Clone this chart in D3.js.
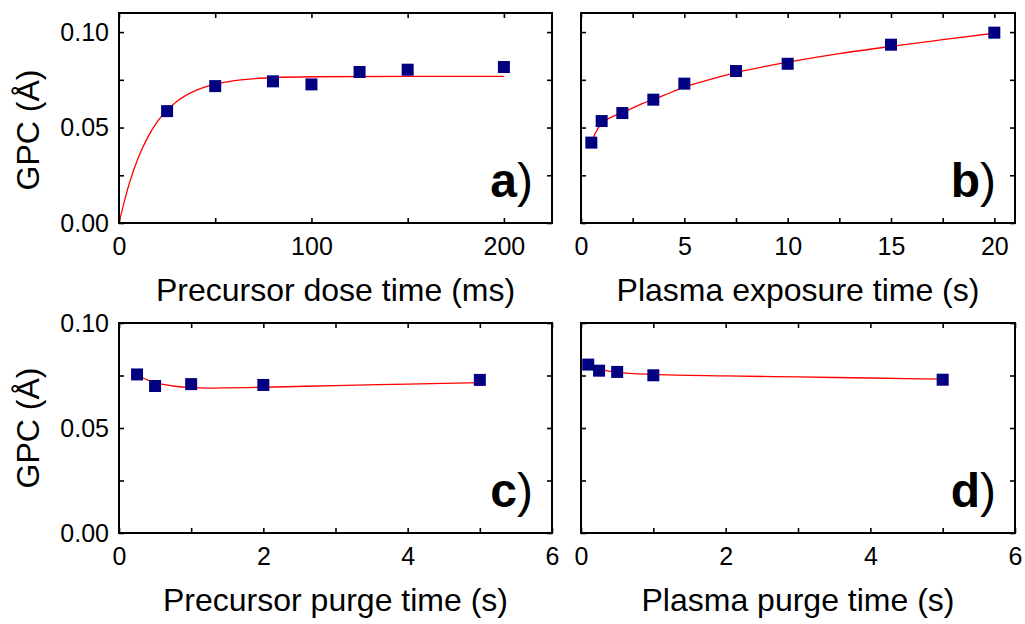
<!DOCTYPE html>
<html>
<head>
<meta charset="utf-8">
<script src="https://cdn.jsdelivr.net/npm/d3@7"></script>
<style>
  body { margin: 0; background: #fff; }
  svg text { font-family: "Liberation Sans", Arial, sans-serif; fill: #000; }
</style>
</head>
<body>
<div class="chart"></div>
<script>
// a) precursor dose
const doseTime = [25, 50, 80, 100, 125, 150, 200];
const doseGpc = [0.0586, 0.0717, 0.0742, 0.0726, 0.0791, 0.0803, 0.0817];
const doseFitT = [0, 5, 10, 15, 20, 25, 30, 40, 50, 60, 80, 100, 150, 200];
const doseFitG = [0, 0.0196, 0.0342, 0.0450, 0.0532, 0.0591, 0.0637, 0.0695, 0.0727, 0.0746, 0.0761, 0.0766, 0.0768, 0.0768];

// b) plasma exposure
const plasmaTime = [0.5, 1, 2, 3.5, 5, 7.5, 10, 15, 20];
const plasmaGpc = [0.0421, 0.0534, 0.0576, 0.0646, 0.0730, 0.0796, 0.0834, 0.0934, 0.0997];
const plasmaFitT = [0.5, 0.75, 1, 1.5, 2, 3, 4, 5, 6, 7.5, 10, 12.5, 15, 17.5, 20];
const plasmaFitG = [0.0425, 0.0482, 0.0522, 0.0556, 0.0578, 0.0627, 0.0668, 0.0712, 0.0745, 0.0788, 0.0842, 0.0887, 0.0925, 0.0960, 0.0994];

// c) precursor purge
const pPurgeTime = [0.25, 0.5, 1, 2, 5];
const pPurgeGpc = [0.0755, 0.0700, 0.0709, 0.0705, 0.0729];
const pPurgeFitT = [0.25, 0.4, 0.5, 0.75, 1, 1.25, 1.5, 2, 3, 4, 5];
const pPurgeFitG = [0.0755, 0.0728, 0.0716, 0.0700, 0.0692, 0.0690, 0.0691, 0.0694, 0.0702, 0.0709, 0.0716];

// d) plasma purge
const qPurgeTime = [0.1, 0.25, 0.5, 1, 5];
const qPurgeGpc = [0.0802, 0.0773, 0.0767, 0.0751, 0.0730];
const qPurgeFitT = [0.1, 0.25, 0.5, 1, 2, 3, 4, 5];
const qPurgeFitG = [0.0796, 0.0780, 0.0765, 0.0755, 0.0748, 0.0743, 0.0738, 0.0733];

const yLabel = "GPC (Å)";

const width = 1025, height = 624;
const svg = d3.select('.chart').append('svg')
    .attr('width', width).attr('height', height);

const panels = [
  {t: doseTime, g: doseGpc, ft: doseFitT, fg: doseFitG, letter: "a", xlab: "Precursor dose time (ms)",
   box: [119, 552, 13, 223], xdom: [0, 225], ydom: [0, 0.11], xmaj: [0, 100, 200], xmin: [50, 150],
   ylab: true},
  {t: plasmaTime, g: plasmaGpc, ft: plasmaFitT, fg: plasmaFitG, letter: "b", xlab: "Plasma exposure time (s)",
   box: [581, 1015, 13, 223], xdom: [0, 21], ydom: [0, 0.11], xmaj: [0, 5, 10, 15, 20], xmin: [2.5, 7.5, 12.5, 17.5],
   ylab: false},
  {t: pPurgeTime, g: pPurgeGpc, ft: pPurgeFitT, fg: pPurgeFitG, letter: "c", xlab: "Precursor purge time (s)",
   box: [119, 552, 323, 533], xdom: [0, 6], ydom: [0, 0.10], xmaj: [0, 2, 4, 6], xmin: [1, 3, 5],
   ylab: true},
  {t: qPurgeTime, g: qPurgeGpc, ft: qPurgeFitT, fg: qPurgeFitG, letter: "d", xlab: "Plasma purge time (s)",
   box: [581, 1015, 323, 533], xdom: [0, 6], ydom: [0, 0.10], xmaj: [0, 2, 4, 6], xmin: [1, 3, 5],
   ylab: false}
];

const ymaj = [0, 0.05, 0.10];
const ymin = [0.025, 0.075];

panels.forEach(p => {
  const [x0, x1, y0, y1] = p.box;
  const x = d3.scaleLinear().domain(p.xdom).range([x0, x1]);
  const y = d3.scaleLinear().domain(p.ydom).range([y1, y0]);
  const g = svg.append('g');

  // ticks, all pointing inward
  const addAxis = (axis, tf) => {
    const a = g.append('g').attr('transform', tf).call(axis);
    a.select('.domain').remove();
    a.selectAll('line').attr('stroke', '#000').attr('stroke-width', 1.6);
    a.selectAll('text').attr('font-size', 25).attr('font-family', '"Liberation Sans", Arial, sans-serif').attr('fill', '#000');
    return a;
  };
  const allX = p.xmaj.concat(p.xmin);
  const allY = ymaj.concat(ymin);
  addAxis(d3.axisBottom(x).tickValues(p.xmaj).tickSize(-5).tickPadding(14).tickFormat(d3.format('d')), `translate(0,${y1})`);
  addAxis(d3.axisBottom(x).tickValues(p.xmin).tickSize(-5).tickFormat(''), `translate(0,${y1})`);
  addAxis(d3.axisTop(x).tickValues(allX).tickSize(-5).tickFormat(''), `translate(0,${y0})`);
  if (p.ylab) {
    addAxis(d3.axisLeft(y).tickValues(ymaj).tickSize(-5).tickPadding(10).tickFormat(d3.format('.2f')), `translate(${x0},0)`);
    addAxis(d3.axisLeft(y).tickValues(ymin).tickSize(-5).tickFormat(''), `translate(${x0},0)`);
  } else {
    addAxis(d3.axisLeft(y).tickValues(allY).tickSize(-5).tickFormat(''), `translate(${x0},0)`);
  }
  addAxis(d3.axisRight(y).tickValues(allY).tickSize(-5).tickFormat(''), `translate(${x1},0)`);

  // fit line
  const fit = p.ft.map((t, i) => [t, p.fg[i]]);
  g.append('path')
    .datum(fit)
    .attr('d', d3.line().x(d => x(d[0])).y(d => y(d[1])).curve(d3.curveMonotoneX))
    .attr('fill', 'none')
    .attr('stroke', '#ff0000')
    .attr('stroke-width', 1.3);

  // data squares
  const pts = p.t.map((t, i) => [t, p.g[i]]);
  g.selectAll('rect.pt')
    .data(pts)
    .join('rect')
    .attr('class', 'pt')
    .attr('x', d => x(d[0]) - 6)
    .attr('y', d => y(d[1]) - 6)
    .attr('width', 12).attr('height', 12)
    .attr('fill', '#000080');

  // frame
  g.append('rect')
    .attr('x', x0).attr('y', y0)
    .attr('width', x1 - x0).attr('height', y1 - y0)
    .attr('fill', 'none')
    .attr('stroke', '#000')
    .attr('stroke-width', 2);

  // panel letter
  const lt = g.append('text')
    .attr('x', x1 - 19).attr('y', y1 - 26)
    .attr('text-anchor', 'end')
    .attr('font-size', 48);
  lt.append('tspan').attr('font-weight', 'bold').text(p.letter);
  lt.append('tspan').text(')');

  // x label
  g.append('text')
    .attr('x', (x0 + x1) / 2).attr('y', y1 + 78)
    .attr('text-anchor', 'middle')
    .attr('font-size', 32)
    .text(p.xlab);

  if (p.ylab) {
    const cy = p.letter === 'a' ? 130 : 428;
    g.append('text')
      .attr('transform', `translate(27.5,${cy}) rotate(-90)`)
      .attr('text-anchor', 'middle')
      .attr('dominant-baseline', 'central')
      .attr('font-size', 32)
      .text(yLabel);
  }
});
</script>
</body>
</html>
